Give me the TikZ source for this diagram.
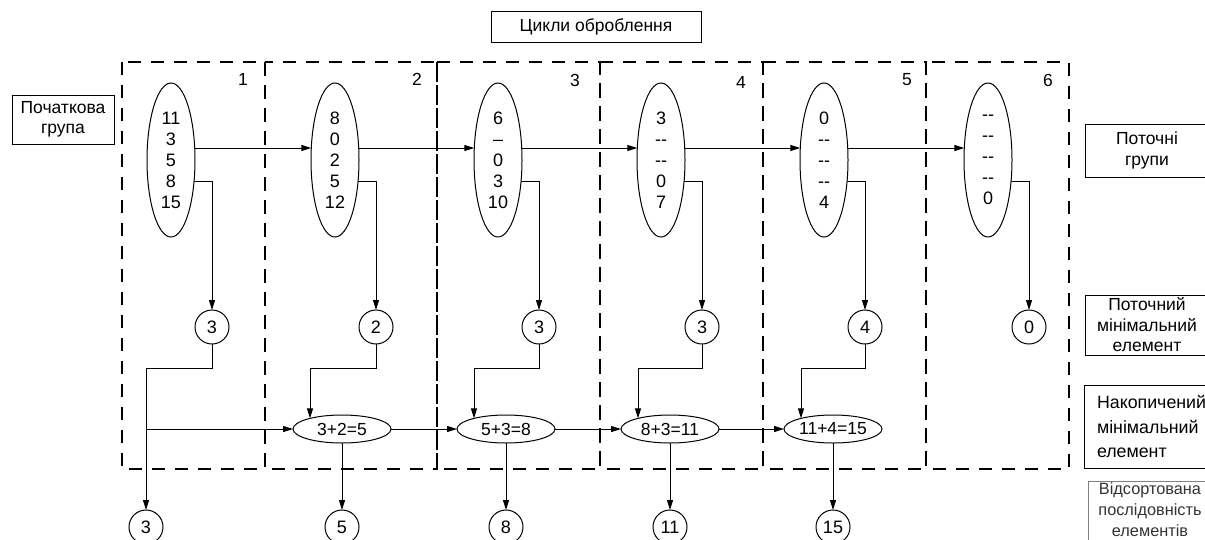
\documentclass[tikz,border=0pt]{standalone}
\usepackage{fontspec}
\setmainfont{Liberation Sans}
\usetikzlibrary{shapes.geometric,arrows.meta,calc}

\begin{document}
\begin{tikzpicture}[x=1pt,y=-1pt,line width=1pt,
  lbl/.style={font=\fontsize{17.5}{20.5}\selectfont, inner sep=0pt},
  grp/.style={ellipse, draw, minimum width=48pt, minimum height=154pt,
    inner sep=0pt, outer sep=0pt, align=center,
    font=\fontsize{18}{21}\selectfont},
  mn/.style={circle, draw, minimum size=34pt, inner sep=0pt, outer sep=0pt,
    font=\fontsize{18}{20}\selectfont},
  acc/.style={ellipse, draw, minimum width=98pt, minimum height=28pt,
    inner sep=0pt, outer sep=0pt, font=\fontsize{17.5}{20}\selectfont},
  cyc/.style={draw, dash pattern=on 13pt off 10pt, line width=1.1pt},
  arr/.style={-{Triangle[length=10pt,width=6pt]}},
  tagbox/.style={draw, anchor=north west, inner sep=0pt, outer sep=0pt,
    align=center, font=\fontsize{17.5}{20.5}\selectfont}
]
\useasboundingbox (0,0) rectangle (1205,539);
\clip (0,0) rectangle (1205,539);

% processing cycles
\draw[cyc] (122,62) rectangle (265,469);
\draw[cyc] (265,62) rectangle (437,469);
\draw[cyc] (437,62) rectangle (600,469);
\draw[cyc] (600,62) rectangle (763,469);
\draw[cyc] (763,62) rectangle (926,469);
\draw[cyc] (926,62) rectangle (1069,469);

\node[lbl] (n1) at (243,79) {1};
\node[lbl] (n2) at (417,79) {2};
\node[lbl] (n3) at (575,80) {3};
\node[lbl] (n4) at (741,82) {4};
\node[lbl] (n5) at (907,80) {5};
\node[lbl] (n6) at (1048,80) {6};

% captions
\node[tagbox, minimum width=210pt, minimum height=31pt] (tcyc) at (491,11) {Цикли оброблення};
\node[tagbox, minimum width=102pt, minimum height=49pt] (tstart) at (12,95) {Початкова\\група};
\node[tagbox, minimum width=124pt, minimum height=53pt] (tcur) at (1085,124) {Поточні\\групи};
\node[tagbox, minimum width=124pt, minimum height=60pt] (tmin) at (1085,295) {Поточний\\мінімальний\\елемент};
\node[tagbox, minimum width=140pt, minimum height=83pt, text width=130pt,
  align=left, font=\fontsize{17.8}{24.5}\selectfont] (tacc) at (1084,385)
  {\hspace*{8pt}Накопичений\\\hspace*{8pt}мінімальний\\\hspace*{8pt}елемент};
\node[tagbox, draw=black!50, text=black!80, minimum width=124pt, minimum height=70pt,
  font=\fontsize{16.3}{21}\selectfont, anchor=north west] (tsort) at (1088,481)
  {\raisebox{0pt}[13pt][0pt]{}Відсортована\\послідовність\\елементів\\[8pt]};

% current groups
\node[grp] (g1) at (171,160) {11\\3\\5\\8\\15};
\node[grp] (g2) at (335,160) {8\\0\\2\\5\\12};
\node[grp] (g3) at (498,160) {6\\–\\0\\3\\10};
\node[grp] (g4) at (661,160) {3\\-{}-\\-{}-\\0\\7};
\node[grp] (g5) at (824,160) {0\\-{}-\\-{}-\\-{}-\\4};
\node[grp] (g6) at (988,160) {-{}-\\-{}-\\-{}-\\-{}-\\0};

% current minima
\node[mn] (m1) at (212,327) {3};
\node[mn] (m2) at (376,327) {2};
\node[mn] (m3) at (539,327) {3};
\node[mn] (m4) at (702,327) {3};
\node[mn] (m5) at (865,327) {4};
\node[mn] (m6) at (1029,327) {0};

% accumulated sums
\node[acc] (s2) at (342,429) {3+2=5};
\node[acc] (s3) at (506,429) {5+3=8};
\node[acc] (s4) at (670,429) {8+3=11};
\node[acc] (s5) at (833,429) {11+4=15};

% sorted output
\node[mn] (b1) at (146,527) {3};
\node[mn] (b2) at (342,527) {5};
\node[mn] (b3) at (506,527) {8};
\node[mn] (b4) at (670,527) {11};
\node[mn] (b5) at (833,527) {15};

% group to group
\foreach \a/\b in {g1/g2,g2/g3,g3/g4,g4/g5,g5/g6}
  \draw[arr] ($(\a.center)+(23.7,-12)$) -- ($(\b.center)+(-23.7,-12)$);

% group to its minimum
\foreach \i in {1,...,6}
  \draw[arr] ($(g\i.center)+(23.1,21)$) -| (m\i.north);

% first minimum goes straight to the output and into the first sum
\coordinate (t1) at (146,368);
\coordinate (j1) at (146,429);
\draw[arr] (m1.south) |- (t1) -- (b1.north);
\draw[arr] (j1) -- (s2.west);

% minima into the sums
\coordinate (t2) at (310,368);
\coordinate (t3) at (474,368);
\coordinate (t4) at (638,368);
\coordinate (t5) at (801,368);
\foreach \i in {2,...,5}
  \draw[arr] (m\i.south) |- (t\i) -- ($(s\i.center)+(-32,-10.6)$);

% sum to sum and sums to the output
\foreach \a/\b in {s2/s3,s3/s4,s4/s5}
  \draw[arr] (\a.east) -- (\b.west);
\foreach \i in {2,...,5}
  \draw[arr] (s\i.south) -- (b\i.north);
\end{tikzpicture}
\end{document}
